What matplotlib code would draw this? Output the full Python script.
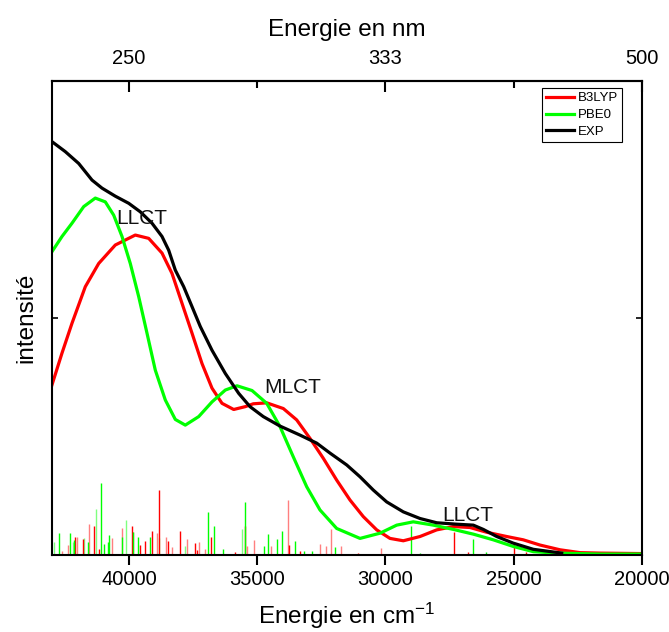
import matplotlib
matplotlib.use("Agg")
import matplotlib.pyplot as plt

plt.rcParams['font.family'] = ['Liberation Sans', 'DejaVu Sans']
plt.rcParams['mathtext.fontset'] = 'custom'
plt.rcParams['mathtext.rm'] = 'Liberation Sans'
plt.rcParams['mathtext.it'] = 'Liberation Sans:italic'

# Experimental absorption spectrum (wavenumber in cm-1, relative intensity)
exp_x = [43000, 42482, 41959, 41441, 41051, 40532, 40010, 39558, 39102, 38712,
         38451, 38193, 37866, 37542, 37219, 36763, 36244, 35722, 35281, 34763,
         34112, 33333, 32681, 32163, 31512, 30993, 30475, 29953, 29305, 28654,
         28003, 27224, 26576, 26187, 25664, 25017, 24237, 23130]
exp_y = [0.872, 0.851, 0.826, 0.791, 0.774, 0.757, 0.742, 0.724, 0.700, 0.672,
         0.643, 0.601, 0.566, 0.524, 0.482, 0.432, 0.383, 0.341, 0.313, 0.292,
         0.272, 0.253, 0.236, 0.215, 0.190, 0.165, 0.137, 0.112, 0.091, 0.077,
         0.068, 0.065, 0.063, 0.054, 0.039, 0.025, 0.012, 0.004]

# Simulated spectrum, B3LYP
b3_x = [43000, 42610, 42220, 41702, 41180, 40532, 39753, 39230, 38712, 38322,
        37932, 37542, 37153, 36763, 36373, 35917, 35465, 35153, 34630, 33983,
        33461, 32942, 32424, 31902, 31383, 30865, 30342, 29824, 29305, 28654,
        28003, 27356, 26705, 26054, 25275, 24627, 23976, 23196, 22417, 21635,
        20000]
b3_y = [0.359, 0.426, 0.489, 0.566, 0.615, 0.654, 0.675, 0.668, 0.637, 0.594,
        0.531, 0.468, 0.404, 0.352, 0.320, 0.307, 0.313, 0.319, 0.321, 0.309,
        0.285, 0.246, 0.204, 0.158, 0.116, 0.081, 0.053, 0.035, 0.030, 0.039,
        0.053, 0.060, 0.058, 0.048, 0.039, 0.032, 0.021, 0.011, 0.005, 0.004,
        0.003]

# Simulated spectrum, PBE0
pb_x = [43000, 42610, 42220, 41764, 41312, 40922, 40595, 40271, 39948, 39620,
        39297, 38973, 38583, 38193, 37804, 37281, 36763, 36244, 35788, 35203,
        34630, 34112, 33593, 33071, 32553, 31902, 30993, 30214, 29563, 28916,
        28136, 27356, 26576, 25797, 25017, 24237, 23326, 21635, 20000]
pb_y = [0.640, 0.672, 0.700, 0.735, 0.753, 0.745, 0.717, 0.672, 0.615, 0.545,
        0.468, 0.390, 0.327, 0.286, 0.274, 0.292, 0.323, 0.348, 0.357, 0.347,
        0.320, 0.271, 0.207, 0.144, 0.095, 0.056, 0.035, 0.046, 0.063, 0.070,
        0.063, 0.054, 0.044, 0.032, 0.018, 0.007, 0.004, 0.002, 0.002]

# Calculated transitions (energy, oscillator strength) - strong / weak
b3_st_x = [42092, 41780, 41351, 41156, 39893, 39570, 39363, 39090, 38817, 38467,
           38001, 37437, 37360, 36790, 35867, 35488, 33750, 33321, 31061, 27318,
           26796, 24980, 24535]
b3_st_y = [0.039, 0.034, 0.062, 0.013, 0.061, 0.021, 0.030, 0.050, 0.138, 0.030,
           0.051, 0.025, 0.011, 0.039, 0.007, 0.062, 0.021, 0.009, 0.004, 0.048,
           0.006, 0.023, 0.006]
b3_wk_x = [42599, 42388, 42037, 41569, 40673, 40283, 39854, 38895, 38556, 38334,
           37749, 37270, 37036, 35387, 35138, 34463, 33789, 32553, 32319, 32124,
           31735, 30175]
b3_wk_y = [0.009, 0.021, 0.037, 0.065, 0.035, 0.056, 0.048, 0.046, 0.037, 0.016,
           0.033, 0.027, 0.013, 0.018, 0.032, 0.018, 0.117, 0.023, 0.018, 0.055,
           0.018, 0.014]

pb_st_x = [42727, 42298, 42131, 41608, 41078, 40961, 40805, 40766, 40283, 39854,
           39659, 39180, 36907, 36674, 36346, 35465, 34736, 34568, 34230, 34035,
           33516, 33165, 32854, 31969, 29006, 28655, 26601, 26083]
pb_st_y = [0.046, 0.046, 0.032, 0.027, 0.151, 0.023, 0.027, 0.042, 0.039, 0.048,
           0.038, 0.038, 0.090, 0.062, 0.013, 0.111, 0.018, 0.044, 0.034, 0.051,
           0.029, 0.009, 0.009, 0.016, 0.062, 0.004, 0.034, 0.006]
pb_wk_x = [42910, 42170, 41741, 41285, 40115, 38817, 37816, 35606]
pb_wk_y = [0.028, 0.027, 0.035, 0.096, 0.074, 0.035, 0.018, 0.055]

# Band assignments
band_labels = ["LLCT", "MLCT", "LLCT"]
band_x = [39490, 33620, 26800]
band_y = [0.709, 0.354, 0.084]

bottom_ticks = [40000, 35000, 30000, 25000, 20000]
top_major = [40000, 30000, 20000]
top_minor = [35000, 25000]

RED = "#ff0000"
GREEN = "#00ff00"
LW = 2.3

fig = plt.figure(figsize=(6.69, 6.32), dpi=100)
ax = fig.add_axes([52 / 669, 1 - 555 / 632, 590 / 669, 474 / 632])

# stick spectra
ax.vlines(b3_wk_x, 0, b3_wk_y, color="#ff7f7f", lw=1.0)
ax.vlines(pb_wk_x, 0, pb_wk_y, color="#7fff7f", lw=1.0)
ax.vlines(b3_st_x, 0, b3_st_y, color=RED, lw=1.0)
ax.vlines(pb_st_x, 0, pb_st_y, color=GREEN, lw=1.0)

ax.plot(b3_x, b3_y, color=RED, lw=LW, label="B3LYP", solid_joinstyle="round")
ax.plot(pb_x, pb_y, color=GREEN, lw=LW, label="PBE0", solid_joinstyle="round")
ax.plot(exp_x, exp_y, color="black", lw=LW, label="EXP", solid_joinstyle="round")

for t, x, y in zip(band_labels, band_x, band_y):
    ax.text(x, y, t, fontsize=15, ha="center", va="center", color="#111111")

ax.set_xlim(43000, 20000)
ax.set_ylim(0, 1)
ax.set_xticks(bottom_ticks)
ax.set_xticklabels([str(t) for t in bottom_ticks])
ax.set_yticks([0.5])
ax.set_yticklabels([])
ax.tick_params(axis="x", which="major", direction="out", length=7, width=1.5,
               labelsize=14.5, pad=4)
ax.tick_params(axis="y", direction="in", length=4, width=1.2, right=True)
for s in ax.spines.values():
    s.set_linewidth(1.5)

ax.set_xlabel("Energie en cm$^{-1}$", fontsize=17.5, labelpad=8.5)
ax.set_ylabel("intensité", fontsize=17.5, labelpad=7)

# wavelength scale on the top axis
top = ax.secondary_xaxis("top")
top.set_xticks(top_major)
top.set_xticklabels([f"{1e7 / w:.0f}" for w in top_major])
top.set_xticks(top_minor, minor=True)
top.tick_params(which="major", direction="in", length=8, width=1.5,
                labelsize=14.5, pad=9)
top.tick_params(which="minor", direction="in", length=5, width=1.5)
top.spines["top"].set_linewidth(1.5)
top.set_xlabel("Energie en nm", fontsize=17.5, labelpad=10)

leg = ax.legend(loc="upper right", bbox_to_anchor=(0.966, 0.985), fontsize=9.5,
                frameon=True, fancybox=False, edgecolor="black", framealpha=1,
                handlelength=2.1, handletextpad=0.3, borderpad=0.3,
                labelspacing=0.35, borderaxespad=0)
leg.get_frame().set_linewidth(0.8)

fig.savefig("out.png", dpi=100)
